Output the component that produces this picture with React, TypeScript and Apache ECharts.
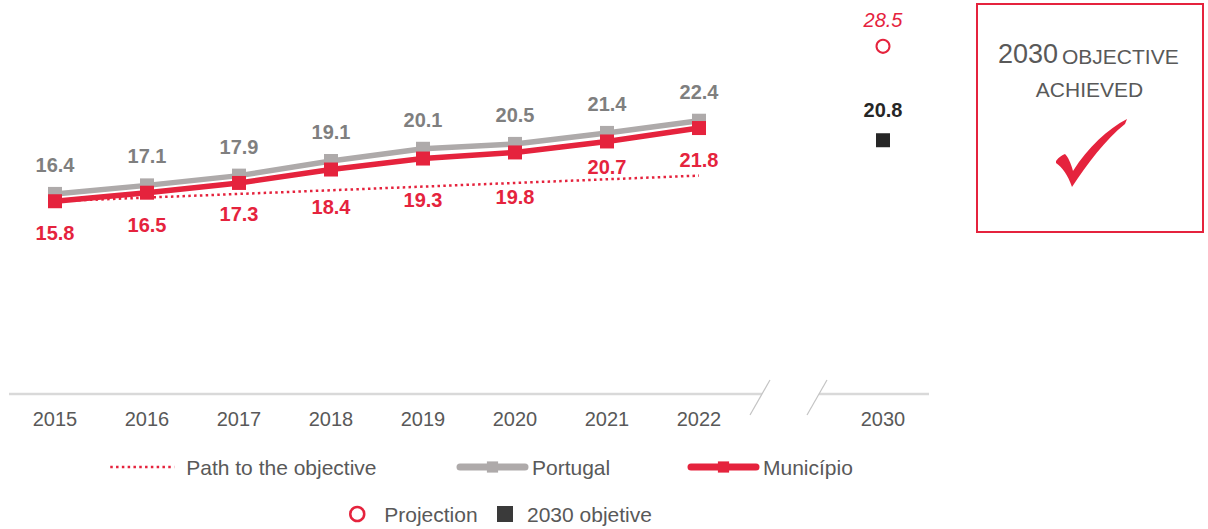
import { useEffect, useRef } from 'react';
import * as echarts from 'echarts';

const years = ['2015', '2016', '2017', '2018', '2019', '2020', '2021', '2022'];
const axisCategories = [...years, '', '2030'];
const portugal = [16.4, 17.1, 17.9, 19.1, 20.1, 20.5, 21.4, 22.4];
const municipio = [15.8, 16.5, 17.3, 18.4, 19.3, 19.8, 20.7, 21.8];
const pathToObjective = [15.8, 16.1, 16.4, 16.7, 17.0, 17.3, 17.6, 17.9];
const projection2030 = 28.5;
const objective2030 = 20.8;
const targetYear = '2030';

// label gaps (layout only) for Município labels, below the markers
const municipioLabelGap = [15, 15, 14, 20, 24, 28, 9, 15];

const RED = '#e5233d';
const GRAY_LINE = '#aeaaaa';
const GRAY_LABEL = '#7f7f7f';
const TEXT = '#595959';
const DARK = '#262626';
const FONT = '"Liberation Sans", Arial, sans-serif';

const checkPath =
  'M6,46 C9,42 12,40 15,39 C18,42 21,48 23,56 C38,32 58,14 77,4 L75,9 C55,25 38,48 22,72 C18,60 12,52 6,48 Z';

let registered = false;

export default function App() {
  const ref = useRef<HTMLDivElement>(null);
  useEffect(() => {
    if (!ref.current) return;
    if (!registered) {
      echarts.graphic.registerShape('checkmark', echarts.graphic.extendPath(checkPath, {}) as any);
      registered = true;
    }
    const chart = echarts.init(ref.current, undefined, { renderer: 'svg' });
    const legendText = { color: TEXT, fontSize: 21, fontFamily: FONT, lineHeight: 21 };
    chart.setOption({
      animation: false,
      textStyle: { fontFamily: FONT },
      grid: { left: 9, top: 28, width: 920, height: 366 },
      xAxis: {
        type: 'category',
        data: axisCategories,
        boundaryGap: true,
        axisLine: { show: false },
        axisTick: { show: false },
        axisLabel: { color: TEXT, fontSize: 20, margin: 15, fontFamily: FONT },
      },
      yAxis: { type: 'value', min: 0, max: 30, show: false, splitLine: { show: false } },
      legend: [
        {
          left: 109, top: 456.5, padding: 0, itemWidth: 64, itemHeight: 14,
          textStyle: { ...legendText, padding: [0, 0, 0, 7] },
          data: [{ name: 'Path to the objective', itemStyle: { opacity: 0 }, lineStyle: { width: 2.5, type: [2.5, 3.3], color: RED } }],
        },
        {
          left: 456.5, top: 456.5, padding: 0, itemWidth: 65, itemHeight: 14,
          textStyle: { ...legendText, padding: [0, 0, 0, 2] },
          data: [{ name: 'Portugal', lineStyle: { width: 7, cap: 'round', color: GRAY_LINE } }],
        },
        {
          left: 687.5, top: 456.5, padding: 0, itemWidth: 65, itemHeight: 14,
          textStyle: { ...legendText, padding: [0, 0, 0, 2] },
          data: [{ name: 'Município', lineStyle: { width: 7, cap: 'round', color: RED } }],
        },
        {
          left: 349, top: 503.5, padding: 0, itemWidth: 14, itemHeight: 14,
          textStyle: { ...legendText, padding: [0, 0, 0, 15] },
          data: [{ name: 'Projection', itemStyle: { color: '#fff', borderColor: RED, borderWidth: 2.5, opacity: 1 } }],
        },
        {
          left: 497, top: 503.5, padding: 0, itemWidth: 16, itemHeight: 16,
          textStyle: { ...legendText, padding: [0, 0, 0, 9] },
          data: [{ name: '2030 objetive', itemStyle: { color: '#3a3a3a', opacity: 1 } }],
        },
      ],
      series: [
        {
          name: 'Path to the objective',
          type: 'line',
          data: pathToObjective,
          symbol: 'none',
          lineStyle: { color: RED, width: 2.5, type: [2.5, 3.3] },
          itemStyle: { color: RED },
          label: { show: false },
          z: 1,
        },
        {
          name: 'Portugal',
          type: 'line',
          data: portugal,
          symbol: 'rect',
          symbolSize: 14,
          lineStyle: { color: GRAY_LINE, width: 5.5 },
          itemStyle: { color: GRAY_LINE },
          label: {
            show: true, position: 'top', distance: 12, color: GRAY_LABEL,
            fontSize: 20, fontWeight: 'bold', fontFamily: FONT,
          },
          z: 2,
        },
        {
          name: 'Município',
          type: 'line',
          data: municipio.map((v, i) => ({ value: v, label: { distance: municipioLabelGap[i] } })),
          symbol: 'rect',
          symbolSize: 14,
          lineStyle: { color: RED, width: 5.5 },
          itemStyle: { color: RED },
          label: {
            show: true, position: 'bottom', color: RED,
            fontSize: 20, fontWeight: 'bold', fontFamily: FONT,
          },
          z: 3,
        },
        {
          name: 'Projection',
          type: 'scatter',
          data: [[targetYear, projection2030]],
          symbol: 'circle',
          symbolSize: 13,
          itemStyle: { color: '#fff', borderColor: RED, borderWidth: 2, opacity: 1 },
          label: {
            show: true, position: 'top', distance: 9, color: RED, fontSize: 20,
            fontStyle: 'italic', fontFamily: FONT,
            formatter: (p: any) => String(p.value[1]),
          },
        },
        {
          name: '2030 objetive',
          type: 'scatter',
          data: [[targetYear, objective2030]],
          symbol: 'rect',
          symbolSize: 14,
          itemStyle: { color: DARK, opacity: 1 },
          label: {
            show: true, position: 'top', distance: 13, color: DARK, fontSize: 20,
            fontWeight: 'bold', fontFamily: FONT,
            formatter: (p: any) => String(p.value[1]),
          },
        },
      ],
      graphic: [
        { type: 'line', shape: { x1: 9, y1: 394, x2: 762, y2: 394 }, style: { stroke: '#d9d9d9', lineWidth: 2.5 }, silent: true },
        { type: 'line', shape: { x1: 819, y1: 394, x2: 929, y2: 394 }, style: { stroke: '#d9d9d9', lineWidth: 2.5 }, silent: true },
        { type: 'line', shape: { x1: 750, y1: 415, x2: 770, y2: 380 }, style: { stroke: '#c4c4c4', lineWidth: 1.2 }, silent: true },
        { type: 'line', shape: { x1: 807, y1: 415, x2: 827, y2: 380 }, style: { stroke: '#c4c4c4', lineWidth: 1.2 }, silent: true },
        {
          type: 'rect', shape: { x: 977, y: 4, width: 226, height: 228 },
          style: { fill: '#fff', stroke: RED, lineWidth: 2 }, silent: true,
        },
        {
          type: 'text', x: 1058, y: 54,
          style: { text: '2030', fontSize: 27, fontFamily: FONT, fill: TEXT, align: 'right', verticalAlign: 'middle' },
        },
        {
          type: 'text', x: 1062, y: 56,
          style: { text: 'OBJECTIVE', fontSize: 21, fontFamily: FONT, fill: TEXT, align: 'left', verticalAlign: 'middle' },
        },
        {
          type: 'text', x: 1089.5, y: 89,
          style: { text: 'ACHIEVED', fontSize: 21, fontFamily: FONT, fill: TEXT, align: 'center', verticalAlign: 'middle' },
        },
        { type: 'checkmark', x: 1050, y: 115, style: { fill: RED }, silent: true },
      ],
    });
    return () => chart.dispose();
  }, []);
  return (
    <div
      ref={ref}
      style={{ position: 'fixed', left: 0, top: 0, width: 1208, height: 529, background: '#fff' }}
    />
  );
}
